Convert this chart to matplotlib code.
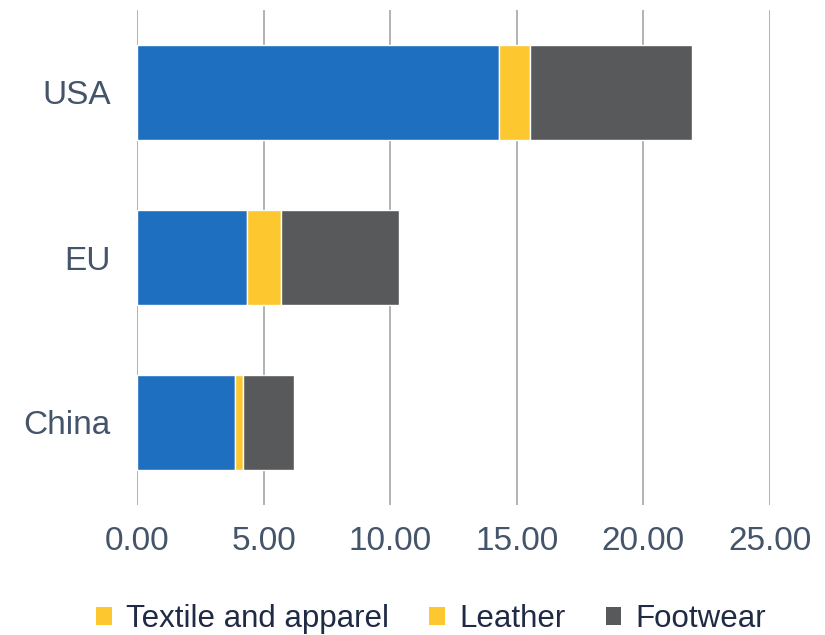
import matplotlib
matplotlib.use("Agg")
import matplotlib.pyplot as plt
from matplotlib.patches import Patch

categories = ["China", "EU", "USA"]
textile = [3.86, 4.33, 14.29]
leather = [0.34, 1.34, 1.22]
footwear = [2.01, 4.67, 6.41]
xticks = [0, 5, 10, 15, 20, 25]
series_names = ["Textile and apparel", "Leather", "Footwear"]

blue = "#1E6FBF"
yellow = "#FCC72F"
grey = "#58595B"
tick_color = "#44546A"
legend_text = "#1F2A44"

plt.rcParams['font.family'] = ['Liberation Sans', 'DejaVu Sans']

fig = plt.figure(figsize=(8.25, 6.35), dpi=100)
ax = fig.add_axes([137/825, 130/635, 633/825, 495/635])

y = list(range(len(categories)))
h = 0.57
left2 = [a + b for a, b in zip(textile, leather)]
ax.barh(y, textile, height=h, color=blue, edgecolor="white", linewidth=1, zorder=3)
ax.barh(y, leather, left=textile, height=h, color=yellow, edgecolor="white", linewidth=1, zorder=3)
ax.barh(y, footwear, left=left2, height=h, color=grey, edgecolor="white", linewidth=1, zorder=3)

ax.set_xlim(0, 25)
ax.set_ylim(-0.5, 2.5)
ax.set_xticks(xticks)
ax.set_xticklabels([f"{v:.2f}" for v in xticks])
ax.set_yticks(y)
ax.set_yticklabels(categories)
ax.grid(axis="x", color="#A6A6A6", linewidth=1.2, zorder=0)
ax.set_axisbelow(True)
for s in ax.spines.values():
    s.set_visible(False)
ax.tick_params(axis="both", length=0, labelsize=24, colors=tick_color)
ax.tick_params(axis="x", pad=15)
ax.tick_params(axis="y", pad=19)

handles = [Patch(facecolor=yellow), Patch(facecolor=yellow), Patch(facecolor=grey)]
leg = fig.legend(handles, series_names, loc="center", bbox_to_anchor=(0.5224, 1 - 618.7/635),
                 ncol=3, frameon=False, fontsize=22.5, handlelength=0.5, handleheight=0.5,
                 handletextpad=0.45, columnspacing=1.3, borderaxespad=0, borderpad=0)
for t in leg.get_texts():
    t.set_color(legend_text)

fig.savefig("out.png", dpi=100)
